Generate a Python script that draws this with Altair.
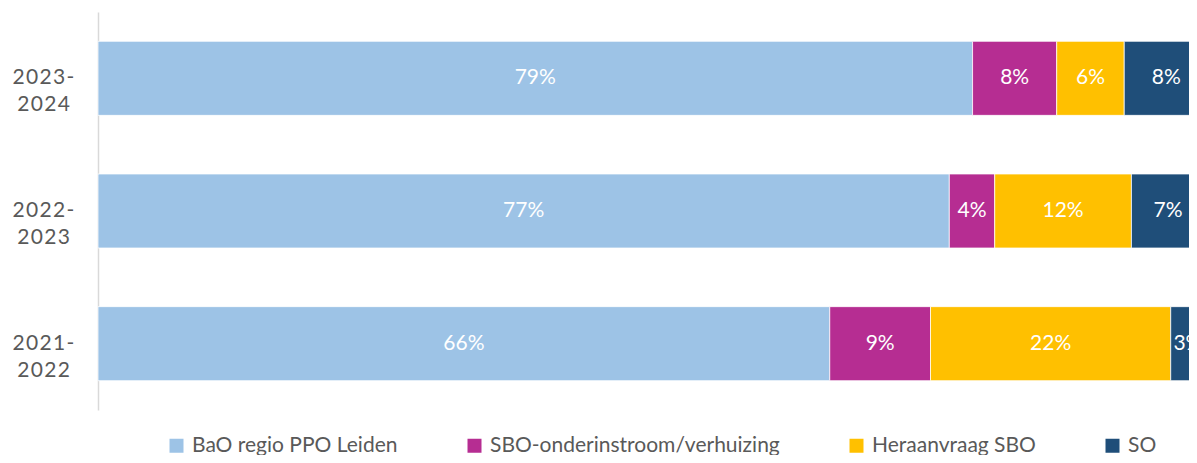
import altair as alt
import pandas as pd

years = ["2023-2024", "2022-2023", "2021-2022"]
series = ["BaO regio PPO Leiden", "SBO-onderinstroom/verhuizing", "Heraanvraag SBO", "SO"]
colors = ["#9DC3E6", "#B62D92", "#FFC000", "#1F4E79"]

bao = [79.0, 76.9, 66.1]
sbo = [7.6, 4.1, 9.1]
hera = [6.1, 12.35, 21.7]
so = [7.6, 6.6, 3.1]

rows = []
for i, y in enumerate(years):
    for k, (name, vals) in enumerate(zip(series, [bao, sbo, hera, so])):
        rows.append({"year": y, "series": name, "order": k, "value": vals[i],
                     "label": f"{round(vals[i])}%"})
df = pd.DataFrame(rows)

FONT = "Lato"
HS = "\u200a"

base = alt.Chart(df).transform_stack(
    stack="value", groupby=["year"], as_=["x0", "x1"],
    sort=[alt.SortField("order", order="ascending")]
).transform_calculate(mid="(datum.x0 + datum.x1) / 2")

xscale = alt.Scale(domain=[0, 98.55], nice=False, zero=True)
yenc = alt.Y("year:N", sort=years, title=None,
             scale=alt.Scale(paddingInner=0.442, paddingOuter=0.221),
             axis=alt.Axis(
                 labelExpr=f"[join(split(slice(datum.label,0,5),''),'{HS}'), join(split(slice(datum.label,5),''),'{HS}')]",
                 labelAlign="center", labelBaseline="middle", labelPadding=55,
                 labelLineHeight=27, labelFontSize=21, labelFont=FONT, labelColor="#595959",
                 ticks=False, grid=False, domainColor="#D9D9D9", domainWidth=1.5))

bars = base.mark_bar(clip=True, stroke="white", strokeWidth=0.75).encode(
    x=alt.X("x0:Q", scale=xscale, axis=None),
    x2="x1:Q",
    y=yenc,
    color=alt.Color("series:N", sort=series,
                    scale=alt.Scale(domain=series, range=colors),
                    legend=alt.Legend(title=None, orient="none", direction="horizontal",
                                      legendX=68, legendY=423, padding=0,
                                      symbolType="square", symbolSize=196, symbolStrokeWidth=0,
                                      labelFont=FONT, labelFontSize=21, labelColor="#595959",
                                      labelLimit=0, labelOffset=5, columnPadding=66)),
)

text = base.mark_text(clip=True, color="white", font=FONT, fontSize=21,
                      align="center", baseline="middle").encode(
    x=alt.X("mid:Q", scale=xscale, axis=None),
    y=alt.Y("year:N", sort=years),
    text="label:N",
)

chart = alt.layer(bars, text).properties(
    width=1091, height=398,
    padding={"left": 90, "top": 4, "right": 0, "bottom": 45},
    autosize=alt.AutoSizeParams(type="none"),
    background="white",
).configure_view(stroke=None)

chart.save("out.html", embed_options={"renderer": "svg", "actions": False})
